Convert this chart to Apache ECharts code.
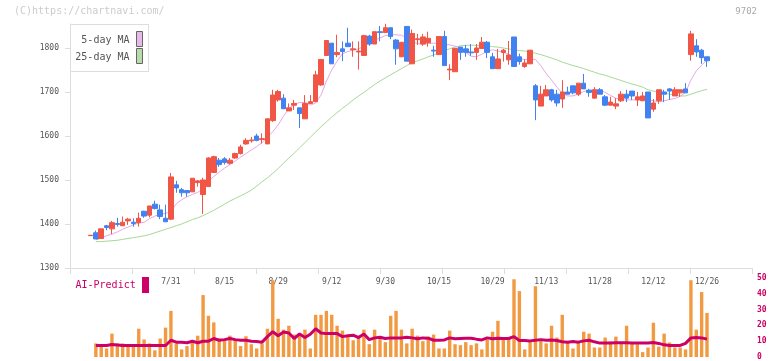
<!DOCTYPE html>
<html><head><meta charset="utf-8">
<script src="https://cdn.jsdelivr.net/npm/echarts@6/dist/echarts.min.js"></script>
<style>html,body{margin:0;padding:0;background:#fff}#c{width:772px;height:361px}</style>
</head><body><div id="c"></div>
<script>
const dates = ['7/9','7/10','7/11','7/12','7/16','7/17','7/18','7/19','7/22','7/23','7/24','7/25','7/26','7/29','7/30','7/31','8/1','8/2','8/5','8/6','8/7','8/8','8/9','8/13','8/14','8/15','8/16','8/19','8/20','8/21','8/22','8/23','8/26','8/27','8/28','8/29','8/30','9/2','9/3','9/4','9/5','9/6','9/9','9/10','9/11','9/12','9/13','9/17','9/18','9/19','9/20','9/24','9/25','9/26','9/27','9/30','10/1','10/2','10/3','10/4','10/7','10/8','10/9','10/10','10/11','10/15','10/16','10/17','10/18','10/21','10/22','10/23','10/24','10/25','10/28','10/29','10/30','10/31','11/1','11/5','11/6','11/7','11/8','11/11','11/12','11/13','11/14','11/18','11/19','11/20','11/21','11/22','11/25','11/26','11/27','11/28','11/29','12/2','12/3','12/4','12/5','12/6','12/9','12/10','12/11','12/12','12/13','12/16','12/17','12/18','12/19','12/20','12/23','12/24','12/25','12/26'];
const opens = [1373.5,1380,1367,1396,1389,1401,1396,1407,1404,1403,1429,1420,1445,1432,1413,1411,1489,1478,1476,1473,1494,1467,1485,1517,1545,1548,1538,1550,1560,1582,1589,1600,1592,1582,1635,1682,1686,1657,1670,1664,1639,1674,1678,1716,1783,1811,1785,1798,1811,1796,1791,1783,1827,1809,1837,1835,1846,1818,1780,1849,1764,1819,1809,1812,1795,1785,1826,1750,1746,1802,1798,1791,1790,1799,1813,1780,1753,1790,1773,1825,1780,1758,1764,1714,1668,1691,1705,1695,1684,1700,1714,1695,1720,1704,1686,1705,1689,1670,1668,1680,1695,1702,1682,1680,1700,1661,1680,1700,1707,1691,1698,1707,1785,1805,1795,1780];
const closes = [1374.5,1366,1389,1392,1403,1399,1404,1411,1401,1413,1418,1441,1435,1417,1405,1507,1482,1471,1471,1504,1498,1500,1550,1553,1535,1540,1545,1560,1575,1590,1591,1590,1594,1639,1693,1701,1662,1664,1674,1651,1674,1678,1739,1774,1817,1764,1790,1792,1803,1798,1793,1828,1809,1837,1835,1846,1826,1798,1813,1770,1833,1821,1825,1822,1793,1826,1760,1752,1799,1790,1790,1789,1800,1813,1790,1753,1775,1795,1784,1758,1769,1766,1795,1682,1695,1705,1682,1675,1700,1695,1698,1720,1707,1699,1705,1695,1670,1677,1673,1695,1686,1691,1689,1691,1641,1675,1705,1695,1702,1705,1705,1698,1832,1791,1778,1771];
const lows = [1373.5,1366,1366,1386,1377,1394,1396,1398,1394,1394,1414,1415,1433,1411,1405,1409,1471,1462,1462,1473,1485,1423,1485,1517,1530,1535,1535,1548,1558,1580,1585,1588,1583,1582,1632,1678,1661,1657,1659,1618,1639,1674,1678,1714,1783,1764,1779,1770,1803,1780,1751,1783,1805,1809,1815,1835,1820,1762,1780,1770,1764,1807,1805,1803,1780,1785,1760,1727,1746,1773,1780,1782,1773,1799,1777,1753,1753,1769,1762,1758,1762,1755,1764,1636,1668,1691,1678,1667,1664,1695,1695,1691,1707,1689,1686,1695,1668,1670,1661,1677,1677,1682,1668,1680,1641,1655,1673,1677,1682,1691,1689,1698,1771,1780,1764,1757];
const highs = [1374.5,1385,1389,1398,1407,1414,1417,1414,1413,1426,1430,1441,1453,1444,1444,1516,1498,1482,1477,1504,1500,1505,1552,1555,1550,1552,1550,1562,1580,1595,1598,1605,1606,1640,1705,1705,1695,1674,1682,1664,1693,1693,1748,1774,1817,1811,1830,1815,1846,1815,1815,1830,1830,1837,1850,1855,1846,1820,1813,1849,1842,1832,1832,1837,1805,1826,1839,1763,1799,1802,1807,1809,1809,1825,1816,1789,1798,1798,1816,1825,1787,1774,1795,1718,1714,1716,1707,1705,1727,1712,1714,1720,1741,1707,1711,1709,1693,1689,1686,1702,1705,1702,1700,1700,1700,1684,1705,1705,1709,1711,1705,1720,1839,1820,1798,1780];
const ma5 = [null,1364,1369,1373,1377,1382,1388,1393,1398,1402,1404,1412,1418,1422,1424,1428,1446,1455,1462,1467,1472,1480,1497,1508,1518,1527,1535,1543,1552,1560,1568,1576,1585,1597,1610,1625,1645,1662,1672,1676,1676,1670,1675,1693,1725,1750,1770,1787,1792,1795,1798,1804,1810,1817,1823,1828,1830,1830,1829,1823,1815,1810,1809,1810,1811,1810,1809,1807,1804,1800,1790,1781,1780,1786,1792,1796,1793,1790,1786,1780,1776,1774,1774,1774,1760,1742,1727,1711,1697,1691,1691,1695,1701,1704,1705,1705,1699,1692,1686,1682,1682,1682,1682,1682,1682,1680,1678,1680,1683,1685,1690,1699,1727,1748,1761,1773];
const ma25 = [null,1360,1360,1361,1362,1363,1365,1367,1369,1371,1373,1376,1380,1384,1388,1392,1396,1400,1405,1410,1414,1419,1425,1431,1438,1445,1452,1458,1464,1470,1477,1486,1496,1505,1515,1526,1538,1550,1561,1573,1585,1597,1609,1621,1632,1643,1653,1663,1672,1682,1691,1699,1708,1717,1725,1732,1739,1746,1753,1760,1766,1771,1775,1780,1784,1789,1794,1798,1802,1805,1806,1806,1806,1805,1805,1803,1802,1800,1798,1796,1794,1793,1791,1788,1785,1781,1777,1773,1768,1764,1760,1757,1753,1749,1745,1741,1738,1734,1730,1726,1722,1718,1715,1711,1705,1702,1700,1698,1695,1693,1691,1691,1695,1699,1703,1706];
const aiBars = [null,8.6,6.9,5.4,14.8,8.6,8.6,6.9,6.9,17.9,11.1,8.6,4.2,11.7,18.6,29.2,8.6,4.8,6.9,10,13.5,39.2,26.1,21.9,11.7,10.6,13.5,11.1,6.9,13.1,8.1,5.4,8.6,17.9,48.6,24.2,17.3,19.8,14.2,14.2,17.3,5.4,26.7,26.7,29.2,26.7,19.8,16.7,13.5,10.6,13.5,17.3,8.1,17.3,11.7,9.4,26.1,29.2,17.3,8.6,17.9,13.5,10,12.9,14.2,5.4,5.4,16.7,8.1,7.5,9.4,7.5,8.6,4.8,11.1,16.0,22.9,11.9,11.7,49.2,41.7,4.8,10,44.8,11.1,8.6,19.8,12.3,26.7,10.2,5.4,10.2,16.0,14.8,6.0,6.0,12.3,9.8,12.9,8.6,19.8,8.6,8.1,3.1,6.0,21.7,6.6,14.8,9.2,6.0,6.0,4.8,48.6,17.3,41.1,27.9];
const aiLine = [null,7.3,7.3,7.3,7.9,7.6,7.3,7.3,7.3,7.3,7.3,7.3,7.3,7.3,7.3,10.6,9.4,9.4,9.0,10,9.0,10,10,11.7,10.6,11,11.7,11,10.6,10.6,10,9.8,9.4,12.9,16,13.5,15.8,15.2,11.7,14.6,12.3,14.4,17.9,15.2,14.8,14.8,14.8,12.9,13.5,13.8,12.3,14.6,11,12.1,12.5,11.7,12.1,12.1,12.1,12.5,12.1,11.5,12.1,11.9,10.6,10.6,10.8,12.1,11.5,11.7,11.9,11.9,11.3,10.8,12.1,11.5,11.9,11.7,11.7,12.9,10.4,10.4,10.2,10.6,11.0,10.6,10.8,10.4,9.6,9.4,9.8,9.4,10.2,10.6,9.6,8.8,8.8,8.8,9.0,9.0,9.0,8.8,8.8,8.8,8.8,9.2,8.6,7.7,7.3,7.3,7.3,8.6,12.1,12.3,12.1,11.3];
const priceTicks = [1300,1400,1500,1600,1700,1800];
const aiTicks = [0,10,20,30,40,50];
const shownDateIdx = [15,25,35,45,55,65,75,85,95,105,115];

const FONT = 'DejaVu Sans Mono';
const PMIN = 1300, PMAX = 1854.5;
const candle = opens.map((o,i)=>[o, closes[i], lows[i], highs[i]]);
const chart = echarts.init(document.getElementById('c'), null, {renderer:'canvas'});
chart.setOption({
  animation:false,
  backgroundColor:'#fff',
  grid:[
    {left:70, right:20, top:24, bottom:93},
    {left:90.5, right:65, top:24, bottom:93},
    {left:90.5, right:65, top:278, bottom:3.3}
  ],
  xAxis:[
    {gridIndex:0, type:'value', min:0, max:11, interval:1,
     axisLine:{show:true, lineStyle:{color:'#dddddd', width:1}},
     axisTick:{show:true, length:6, lineStyle:{color:'#dddddd'}},
     axisLabel:{show:false}, splitLine:{show:false}},
    {gridIndex:1, type:'category', data:dates, boundaryGap:false,
     axisLine:{show:false}, axisTick:{show:false}, splitLine:{show:false},
     axisLabel:{interval:(i)=>shownDateIdx.indexOf(i)>=0, margin:10, color:'#555', fontFamily:FONT, fontSize:8}},
    {gridIndex:2, type:'category', data:dates, boundaryGap:false, show:false}
  ],
  yAxis:[
    {gridIndex:0, type:'value', min:PMIN, max:PMAX,
     axisLine:{show:true, lineStyle:{color:'#dddddd'}},
     axisTick:{show:true, length:5, customValues:priceTicks, lineStyle:{color:'#dddddd'}},
     axisLabel:{customValues:priceTicks, formatter:(v)=>String(v), margin:11, color:'#555', fontFamily:FONT, fontSize:8},
     splitLine:{show:false}},
    {gridIndex:1, type:'value', min:PMIN, max:PMAX, show:false},
    {gridIndex:2, type:'value', min:0, max:50, interval:10, position:'right', offset:45,
     axisLine:{show:false}, axisTick:{show:false}, splitLine:{show:false},
     axisLabel:{customValues:aiTicks, margin:5, color:'#cc0066', fontFamily:FONT, fontSize:8, fontWeight:'bold'}}
  ],
  series:[
    {type:'line', xAxisIndex:1, yAxisIndex:1, data:ma25, symbol:'none', lineStyle:{color:'#a8d898', width:1}, z:2},
    {type:'line', xAxisIndex:1, yAxisIndex:1, data:ma5, symbol:'none', lineStyle:{color:'#e6a8e6', width:1}, z:2},
    {type:'candlestick', xAxisIndex:1, yAxisIndex:1, data:candle, barWidth:5, z:3,
     itemStyle:{color:'#f05545', color0:'#4282f0', borderColor:'#f05545', borderColor0:'#4282f0', borderWidth:1}},
    {type:'bar', xAxisIndex:2, yAxisIndex:2, data:aiBars, barWidth:3.4, itemStyle:{color:'#f29a42'}, z:2},
    {type:'line', xAxisIndex:2, yAxisIndex:2, data:aiLine, symbol:'none', lineStyle:{color:'#cc0066', width:3}, z:3}
  ],
  graphic:[
    {type:'text', left:14, top:6, style:{text:'(C)https://chartnavi.com/', fill:'#cccccc', font:'10px "DejaVu Sans Mono"'}},
    {type:'text', right:15, top:7, style:{text:'9702', fill:'#aaaaaa', font:'9px "DejaVu Sans Mono"'}},
    {type:'rect', shape:{x:70.5, y:24.5, width:78, height:47}, style:{fill:'#fff', stroke:'#dddddd', lineWidth:1}, z:10},
    {type:'text', x:129.5, y:40.5, style:{text:'5-day MA', fill:'#555', font:'10px "DejaVu Sans Mono"', textAlign:'right', textVerticalAlign:'middle'}, z:11},
    {type:'text', x:129.5, y:57.5, style:{text:'25-day MA', fill:'#555', font:'10px "DejaVu Sans Mono"', textAlign:'right', textVerticalAlign:'middle'}, z:11},
    {type:'rect', shape:{x:136.5, y:31.5, width:6, height:15}, style:{fill:'#e8b8e8', stroke:'#666', lineWidth:1}, z:11},
    {type:'rect', shape:{x:136.5, y:48.5, width:6, height:15}, style:{fill:'#b8dca8', stroke:'#666', lineWidth:1}, z:11},
    {type:'text', x:75.5, y:285, style:{text:'AI-Predict', fill:'#cc0066', font:'10px "DejaVu Sans Mono"', textVerticalAlign:'middle'}, z:11},
    {type:'rect', shape:{x:142, y:277, width:7, height:16}, style:{fill:'#cc0066'}, z:11}
  ]
});
</script></body></html>
